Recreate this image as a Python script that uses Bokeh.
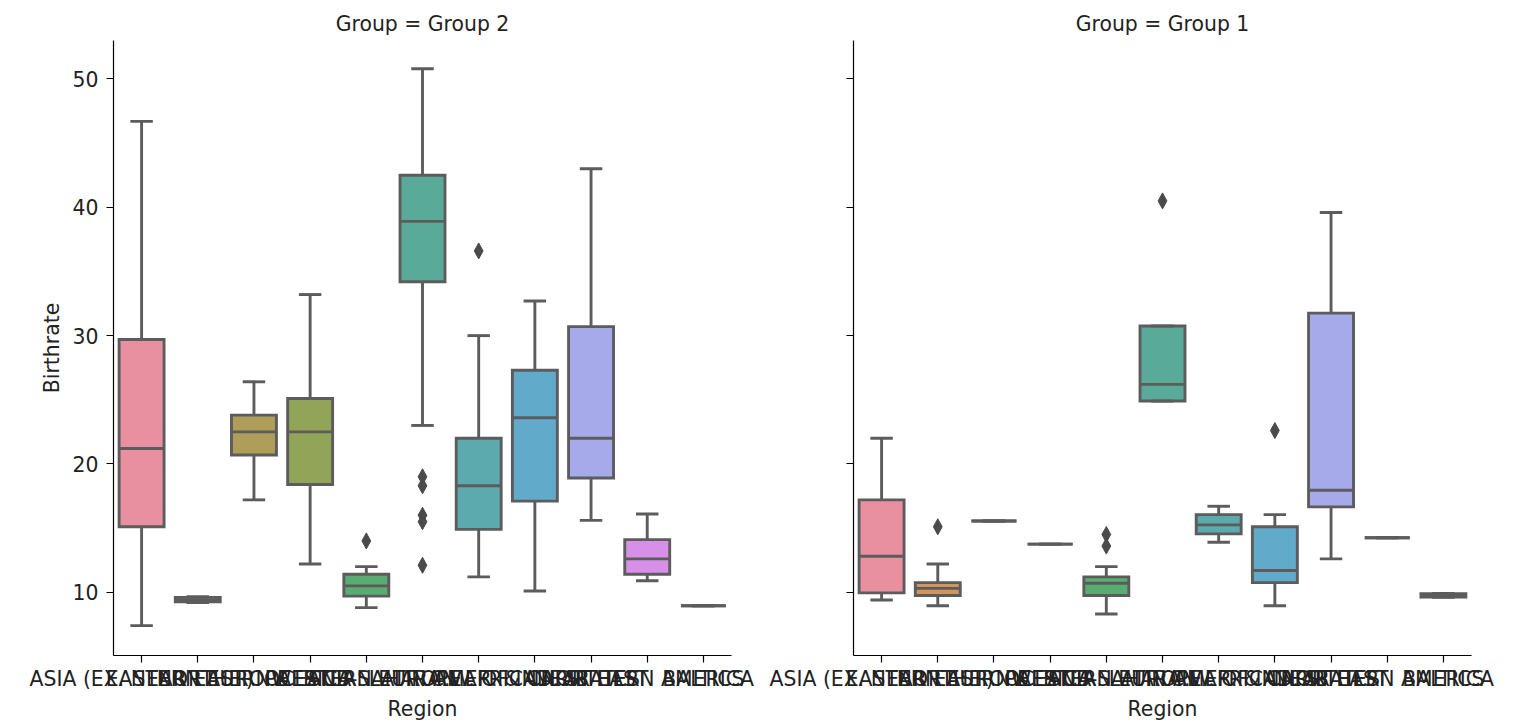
import math
import colorsys
from bokeh.plotting import figure
from bokeh.layouts import row
from bokeh.models import FixedTicker, Range1d
from bokeh.embed import file_html
from bokeh.resources import INLINE

# ---------------- data ----------------
regions = ["ASIA (EX. NEAR EAST)", "EASTERN EUROPE", "NORTHERN AFRICA", "OCEANIA",
           "WESTERN EUROPE", "SUB-SAHARAN AFRICA", "LATIN AMER. & CARIB",
           "C.W. OF IND. STATES", "NEAR EAST", "NORTHERN AMERICA", "BALTICS"]

# Group 2 box statistics (Birthrate)
g2_lo = [7.4, 9.2, 17.2, 12.2, 8.8, 23.0, 11.2, 10.1, 15.6, 10.9, 8.95]
g2_q1 = [15.1, 9.25, 20.7, 18.4, 9.7, 34.2, 14.9, 17.1, 18.9, 11.4, 8.95]
g2_med = [21.2, 9.4, 22.5, 22.5, 10.5, 38.9, 18.3, 23.6, 22.0, 12.6, 8.95]
g2_q3 = [29.7, 9.6, 23.8, 25.1, 11.4, 42.5, 22.0, 27.3, 30.7, 14.1, 8.95]
g2_hi = [46.7, 9.65, 26.4, 33.2, 12.0, 50.8, 30.0, 32.7, 43.0, 16.1, 8.95]
g2_out_region = [4, 5, 5, 5, 5, 5, 6]
g2_out_value = [14.0, 19.0, 18.3, 16.0, 15.5, 12.1, 36.6]

# Group 1 box statistics (Birthrate)
g1_lo = [9.4, 8.95, 15.55, 13.75, 8.3, 24.9, 13.9, 8.95, 12.6, 14.25, 9.6]
g1_q1 = [9.95, 9.75, 15.55, 13.75, 9.75, 24.9, 14.55, 10.75, 16.65, 14.25, 9.62]
g1_med = [12.8, 10.3, 15.55, 13.75, 10.7, 26.2, 15.25, 11.7, 17.95, 14.25, 9.75]
g1_q3 = [17.2, 10.75, 15.55, 13.75, 11.2, 30.75, 16.05, 15.1, 31.75, 14.25, 9.88]
g1_hi = [22.0, 12.2, 15.55, 13.75, 12.0, 30.75, 16.7, 16.05, 39.6, 14.25, 9.9]
g1_out_region = [1, 4, 4, 5, 7]
g1_out_value = [15.1, 14.5, 13.6, 40.5, 22.6]

y_ticks = [10, 20, 30, 40, 50]

# ---------------- colours (seaborn husl palette, desaturated 0.75) ----------------
_m = [[3.2406, -1.5372, -0.4986], [-0.9689, 1.8758, 0.0415], [0.0557, -0.2040, 1.0570]]
_refU, _refV = 0.19784, 0.46834


def _max_chroma(L, H):
    hrad = math.radians(H)
    sinH, cosH = math.sin(hrad), math.cos(hrad)
    sub1 = (L + 16) ** 3.0 / 1560896.0
    sub2 = sub1 if sub1 > 0.008856 else (L / 903.3)
    result = float("inf")
    for m1, m2, m3 in _m:
        top = (0.99915 * m1 + 1.05122 * m2 + 1.14460 * m3) * sub2
        rbottom = (0.86330 * m3 - 0.17266 * m2)
        lbottom = (0.12949 * m3 - 0.38848 * m1)
        bottom = (rbottom * sinH + lbottom * cosH) * sub2
        for t in (0.0, 1.0):
            C = L * (top - 1.05122 * t) / (bottom + 0.17266 * sinH * t)
            if 0.0 < C < result:
                result = C
    return result


def _husl_to_rgb(H, S, L):
    C = _max_chroma(L, H) / 100.0 * S
    U = math.cos(math.radians(H)) * C
    V = math.sin(math.radians(H)) * C
    varY = ((L + 16.0) / 116.0) ** 3.0 if L > 8.0 else L / 903.3
    varU = U / (13.0 * L) + _refU
    varV = V / (13.0 * L) + _refV
    Y = varY
    X = 0.0 - (9.0 * Y * varU) / ((varU - 4.0) * varV - varU * varV)
    Z = (9.0 * Y - (15.0 * varV * Y) - (varV * X)) / (3.0 * varV)
    out = []
    for r in _m:
        c = r[0] * X + r[1] * Y + r[2] * Z
        c = 12.92 * c if c <= 0.0031308 else 1.055 * c ** (1 / 2.4) - 0.055
        out.append(min(max(c, 0.0), 1.0))
    return out


def husl_palette(n, h=0.01, s=0.9, l=0.65):
    cols = []
    for i in range(n):
        hue = ((i / n + h) % 1) * 359
        cols.append(_husl_to_rgb(hue, s * 99, l * 99))
    return cols


def desat(rgb, prop=0.75):
    hh, ll, ss = colorsys.rgb_to_hls(*rgb)
    return colorsys.hls_to_rgb(hh, ll, ss * prop)


def lighten(rgb, f=0.12):
    return tuple(c + (1.0 - c) * f for c in rgb)


def to_hex(rgb):
    return "#%02x%02x%02x" % tuple(int(round(c * 255)) for c in rgb)


_rgb = [desat(c) for c in husl_palette(len(regions))]
colors = [to_hex(lighten(c)) for c in _rgb]
gray = "#5c5c5c"

FONT = "DejaVu Sans"
FS = "20.4px"
TXT = "#222222"
X0, X1 = -0.5, 10.5
Y0, Y1 = 5.07, 53.0
FRAME_W, FRAME_H = 618, 615


def panel(title, lo, q1, med, q3, hi, out_r, out_v, show_ylabels, border_left, border_right):
    p = figure(output_backend="svg", toolbar_location=None,
               frame_width=FRAME_W, frame_height=FRAME_H,
               min_border_left=border_left, min_border_right=border_right,
               min_border_top=40, min_border_bottom=58,
               x_range=Range1d(X0, X1), y_range=Range1d(Y0, Y1),
               title=title)
    p.title.text_font = FONT
    p.title.text_font_size = FS
    p.title.text_font_style = "normal"
    p.title.text_color = TXT
    p.title.align = "center"
    p.title.standoff = 10
    p.outline_line_color = None
    p.background_fill_color = "white"
    p.border_fill_color = None
    p.xgrid.visible = False
    p.ygrid.visible = False

    xs = list(range(len(regions)))
    w = 0.4
    cw = 0.2
    lw = 2.9
    # whiskers
    p.segment(x0=xs, y0=q3, x1=xs, y1=hi, line_color=gray, line_width=lw)
    p.segment(x0=xs, y0=q1, x1=xs, y1=lo, line_color=gray, line_width=lw)
    # boxes
    p.quad(left=[x - w for x in xs], right=[x + w for x in xs], bottom=q1, top=q3,
           fill_color=colors, line_color=gray, line_width=lw, line_join="miter")
    # medians
    p.segment(x0=[x - w for x in xs], y0=med, x1=[x + w for x in xs], y1=med,
              line_color=gray, line_width=lw)
    # caps
    p.segment(x0=[x - cw for x in xs], y0=hi, x1=[x + cw for x in xs], y1=hi,
              line_color=gray, line_width=lw)
    p.segment(x0=[x - cw for x in xs], y0=lo, x1=[x + cw for x in xs], y1=lo,
              line_color=gray, line_width=lw)
    # outliers as thin diamonds
    hw = 4.4 * (X1 - X0) / FRAME_W
    hh = 8.0 * (Y1 - Y0) / FRAME_H
    dxs = [[r - hw, r, r + hw, r] for r in out_r]
    dys = [[v, v + hh, v, v - hh] for v in out_v]
    p.patches(xs=dxs, ys=dys, fill_color="#4a4a4a", line_color="#4a4a4a", line_width=1)

    # axes
    for ax in (p.xaxis[0], p.yaxis[0]):
        ax.axis_line_color = "black"
        ax.axis_line_width = 1.2
        ax.major_tick_line_color = "black"
        ax.major_tick_line_width = 1.2
        ax.major_tick_in = 0
        ax.major_tick_out = 7
        ax.minor_tick_line_color = None
        ax.major_label_text_font = FONT
        ax.major_label_text_font_size = FS
        ax.major_label_text_color = TXT
        ax.axis_label_text_font = FONT
        ax.axis_label_text_font_size = FS
        ax.axis_label_text_font_style = "normal"
        ax.axis_label_text_color = TXT

    p.xaxis.ticker = FixedTicker(ticks=xs)
    p.xaxis.major_label_overrides = {i: r for i, r in enumerate(regions)}
    p.xaxis.major_label_standoff = 4
    p.xaxis.axis_label = "Region"
    p.xaxis.axis_label_standoff = 3

    p.yaxis.ticker = FixedTicker(ticks=y_ticks)
    p.yaxis.major_label_standoff = 8
    if show_ylabels:
        p.yaxis.axis_label = "Birthrate"
        p.yaxis.axis_label_standoff = 6
    else:
        p.yaxis.major_label_overrides = {t: "" for t in y_ticks}
    return p


p_left = panel("Group = Group 2", g2_lo, g2_q1, g2_med, g2_q3, g2_hi,
               g2_out_region, g2_out_value, True, 113, 30)
p_right = panel("Group = Group 1", g1_lo, g1_q1, g1_med, g1_q3, g1_hi,
                g1_out_region, g1_out_value, False, 92, 40)

layout = row(p_left, p_right)
open("out.html", "w").write(file_html(layout, INLINE))
